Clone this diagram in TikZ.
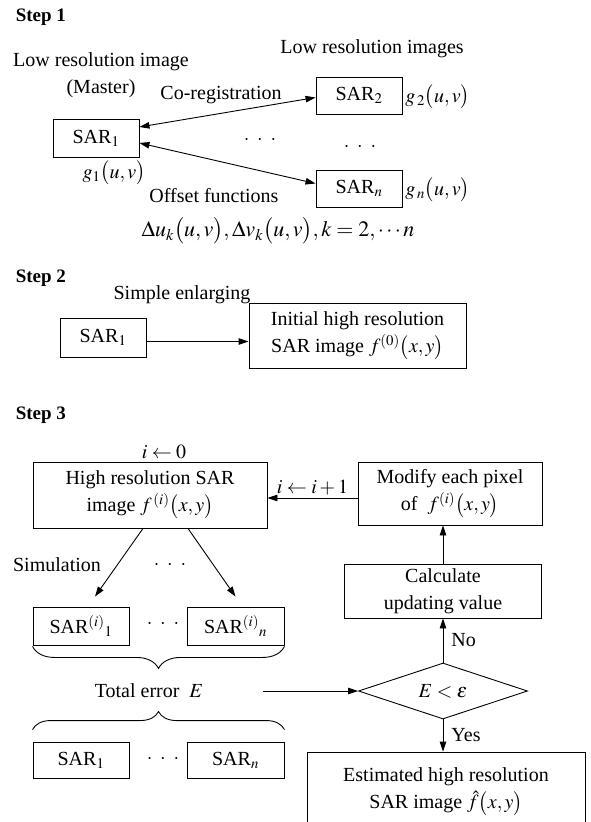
\documentclass[tikz,border=0pt]{standalone}
\usepackage{mathptmx}
\usepackage{fontspec}
\setmainfont{Liberation Serif}
\usetikzlibrary{arrows.meta,shapes.geometric,decorations.pathreplacing}

\begin{document}
\begin{tikzpicture}[x=1pt,y=-1pt,line width=0.9pt,>={Triangle[length=10pt,width=6.5pt]}]
\useasboundingbox (0,0) rectangle (591,822);
\tikzset{every node/.style={font=\fontsize{20}{27}\selectfont}}
\tikzset{box/.style={draw,inner sep=0pt,align=center,minimum height=38pt}}
\tikzset{steplabel/.style={anchor=west,font=\fontsize{19}{24}\selectfont\bfseries}}
\tikzset{dots/.style={font=\fontsize{20}{24}\selectfont}}
% step 1
\node[steplabel] (step1) at (12,17) {Step 1};
\node[align=center] (master) at (101,75) {Low resolution image\\(Master)};
\node (lowimgs) at (372,49) {Low resolution images};
\node[box,minimum width=86pt] (sar1) at (96,138) {SAR$_1$};
\node (g1) at (114,173) {$g_1\bigl(u,v\bigr)$};
\node[box,minimum width=86pt,minimum height=37pt] (sar2) at (359,95.5) {SAR$_2$};
\node[anchor=west,inner sep=1pt] (g2) at (404,97) {$g_{\,2}\bigl(u,v\bigr)$};
\node[box,minimum width=86pt,minimum height=37pt] (sarn) at (359,188.5) {SAR$_n$};
\node[anchor=west,inner sep=1pt] (gn) at (404,190) {$g_{\,n}\bigl(u,v\bigr)$};
\node (coreg) at (221,95) {Co-registration};
\node[dots] (dots1) at (260,140) {$\cdot\ \cdot\ \cdot$};
\node[dots] (dots2) at (360,147) {$\cdot\ \cdot\ \cdot$};
\node[inner sep=0pt] (offset) at (214,196) {Offset functions};
\node[inner sep=0pt,font=\fontsize{22}{27}\selectfont] (delta) at (278,231) {$\Delta u_k\bigl(u,v\bigr),\Delta v_k\bigl(u,v\bigr),k=2,\cdots n$};
\draw[<->] ([yshift=11pt]sar1.east) -- ([yshift=-2pt]sar2.west);
\draw[<->] ([yshift=-5pt]sar1.east) -- ([yshift=5pt]sarn.west);
% step 2
\node[steplabel] (step2) at (12,278) {Step 2};
\node (simple) at (182,295) {Simple enlarging};
\node[box,minimum width=86pt,minimum height=39pt] (sar1b) at (103,337.5) {SAR$_1$};
\node[box,minimum width=217pt,minimum height=65pt] (init) at (357.5,335.5) {Initial high resolution\\SAR image $f^{(0)}\bigl(x,y\bigr)$};
\draw[->] ([yshift=-4pt]sar1b.east) -- ([yshift=-4pt]sar1b.east -| init.west);
% step 3
\node[steplabel] (step3) at (12,415) {Step 3};
\node (init0) at (164,452) {$i\leftarrow 0$};
\node[box,minimum width=234pt,minimum height=66pt] (hires) at (150,495) {High resolution SAR\\image $f^{\,(i)}\bigl(x,y\bigr)$};
\node[box,minimum width=184pt,minimum height=63pt] (modify) at (450,493.5) {Modify each pixel\\of \ $f^{(i)}\bigl(x,y\bigr)$};
\node[box,minimum width=197pt,minimum height=54pt] (calc) at (443,591) {Calculate\\updating value};
\node[draw,diamond,aspect=3,inner sep=1pt,minimum width=169pt,minimum height=56pt] (test) at (443,691) {$E<\varepsilon$};
\node[box,minimum width=278pt,minimum height=80pt] (est) at (446,792) {Estimated high resolution\\SAR image $\hat{f}\bigl(x,y\bigr)$};
\node (simul) at (57,565) {Simulation};
\node[dots] (dots3) at (170,565) {$\cdot\ \cdot\ \cdot$};
\node[box,minimum width=96pt] (simi1) at (81,626) {SAR$^{(i)}{}_1$};
\node[box,minimum width=97pt] (simin) at (235.5,626) {SAR$^{(i)}{}_n$};
\node[dots] (dots4) at (163,624) {$\cdot\ \cdot\ \cdot$};
\node (total) at (149,691) {Total error \ $E$};
\node[box,minimum width=96pt,minimum height=36pt] (low1) at (81,760) {SAR$_1$};
\node[box,minimum width=97pt,minimum height=36pt] (lown) at (235.5,760) {SAR$_n$};
\node[dots] (dots5) at (163,759) {$\cdot\ \cdot\ \cdot$};
\coordinate (errout) at (263,691);
\draw[->] ([xshift=-7pt]hires.south) -- ([xshift=14pt,yshift=10pt]simi1.north);
\draw[->] ([xshift=38pt]hires.south) -- ([yshift=10pt]simin.north);
\draw[decorate,decoration={brace,mirror,amplitude=22pt}] ([yshift=-1pt]simi1.south west) -- ([yshift=-1pt]simin.south east);
\draw[decorate,decoration={brace,amplitude=18pt}] ([yshift=12pt]low1.north west) -- ([yshift=12pt]lown.north east);
\draw[->] (modify.west |- 0,498) -- (hires.east |- 0,498) node[midway,above,inner sep=2pt] {$i\leftarrow i+1$};
\draw[->] (calc.north) -- (calc.north |- modify.south);
\draw[->] (test.north) -- (calc.south) node[midway,right,inner sep=8pt] {No};
\draw[->] (errout) -- (errout -| test.west);
\draw[->] (test.south) -- (test.south |- est.north) node[midway,right,inner sep=8pt] {Yes};
\end{tikzpicture}
\end{document}
